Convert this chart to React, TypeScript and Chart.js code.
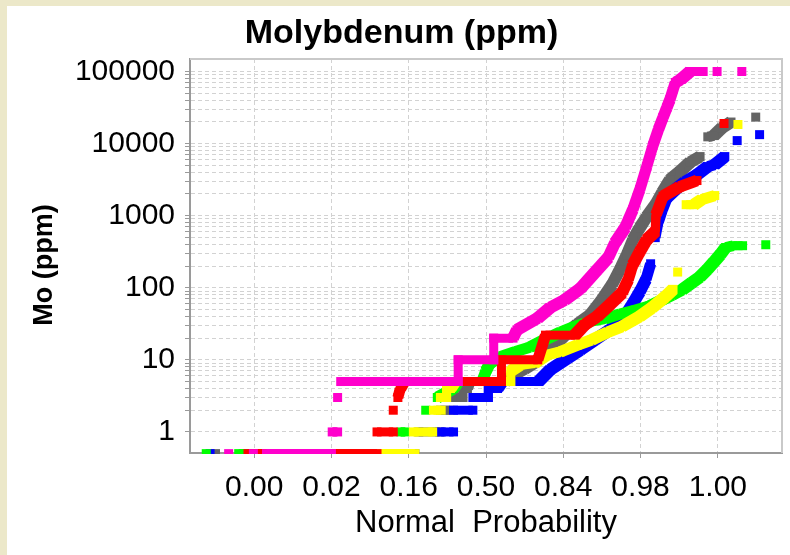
import { useEffect, useRef } from 'react';
import { Chart, registerables } from 'chart.js';

Chart.register(...registerables);

const FONT = "'Liberation Sans', Arial, Helvetica, sans-serif";
const PAGE_BG = '#ece8c9';
const MARK_SIDE = 9;
const Y_TITLE = 'Mo (ppm)';

// Normal-score axis: tick positions (standard deviations) and their cumulative-probability labels
const scoreTicks = [-3, -2, -1, 0, 1, 2, 3];
const probabilityLabels = ['0.00', '0.02', '0.16', '0.50', '0.84', '0.98', '1.00'];

// Labelled decades of the Mo (ppm) log axis
const ppmDecades = [1, 10, 100, 1000, 10000, 100000];

// Sample populations: normal score (z) and Mo in ppm.
// A null pair ends one connected run of samples; lone values are single samples.
const pinkZ = [-3.33, null, -3.01, null, -2.84, -2.0, null, -1.99, -1.92, null, -1.92, null,
  -1.88, -0.36, -0.36, 0.1, 0.1, 0.35, 0.4, 0.67, 0.83, 1.02, 1.22, 1.44, 1.58, 1.67, 1.8, 1.9,
  1.99, 2.08, 2.16, 2.23, 2.29, 2.34, 2.38, 2.45, 2.52, 2.64, 2.81, null, 2.99, null, 3.31];
const pinkPpm = [0.5, null, 0.5, null, 0.5, 0.5, null, 1, 1, null, 3, null,
  5, 5, 10, 10, 20, 20, 26, 38, 53, 68, 97, 178, 261, 422, 681, 1210,
  2300, 4800, 9400, 15600, 23000, 31600, 40800, 70300, 77400, 100000, 100000, null, 100000, null, 100000];

const redZ = [-3.08, -1.41, null, -1.41, -1.2, null, -1.2, null, -1.14, -1.11, -1.06, 0.2, 0.2,
  0.67, 0.77, 1.15, 1.28, 1.44, 1.6, 1.76, 1.84, 1.9, 1.99, 2.08, 2.19, 2.2, 2.29, 2.5, 2.73, null, 3.08];
const redPpm = [0.5, 0.5, null, 1, 1, null, 2, null, 3, 4, 5, 5, 10,
  10, 22, 22, 31, 40, 58, 85, 129, 209, 316, 464, 600, 1030, 1860, 2500, 3070, null, 19000];

const yellowZ = [-2.9, -0.92, null, -0.94, -0.69, null, -0.68, -0.58, null, -0.59, -0.51, -0.51,
  -0.46, -0.4, 0.32, 0.32, 0.44, 0.63, 0.79, 0.96, 1.18, 1.37, 1.57, 1.76, 1.99, 2.15, 2.32, 2.42,
  null, 2.48, null, 2.59, 2.69, 2.79, 2.96, null, 3.26];
const yellowPpm = [0.5, 0.5, null, 1, 1, null, 2, 2, null, 3, 3, 4,
  4, 5, 5, 7, 8.5, 9, 11.7, 12.9, 16, 19, 24, 29, 40, 53, 75, 95,
  null, 165, null, 1420, 1420, 1670, 1900, null, 18400];

const greenZ = [-3.62, null, -3.2, -1.18, null, -1.1, -1.05, null, -0.78, null, -0.63, -0.42,
  -0.36, -0.05, 0.0, 0.05, 0.18, 0.38, 0.57, 0.76, 0.96, 1.15, 1.35, 1.54, 1.73, 1.93, 2.12, 2.28,
  2.41, 2.54, 2.66, 2.77, 2.86, 2.94, 3.03, 3.1, 3.2, 3.32, null, 3.62];
const greenPpm = [0.5, null, 0.5, 0.5, null, 1, 1, null, 2, null, 3, 4,
  5, 5, 7, 9, 11, 13, 15, 19, 24, 29, 34, 37, 43, 49, 56, 68,
  80, 94, 117, 142, 178, 222, 287, 362, 383, 383, null, 395];

const blueZ = [-3.57, null, -2.9, -1.0, null, -0.58, -0.42, null, -0.42, -0.17, null, -0.17, 0.03,
  0.03, 0.15, 0.21, 0.68, 0.83, 1.06, 1.22, 1.41, 1.6, 1.76, 1.89, 1.99, 2.07, 2.13, null,
  2.19, 2.23, 2.28, 2.34, 2.45, 2.57, 2.73, 2.87, 2.96, 3.09, null, 3.25, null, 3.54];
const bluePpm = [0.5, null, 0.5, 0.5, null, 1, 1, null, 2, 2, null, 3, 3,
  4, 4, 5, 5, 7.3, 10.6, 13.7, 19, 26, 35, 58, 88, 130, 215, null,
  496, 826, 1210, 1780, 2300, 2900, 3700, 4800, 5100, 6600, null, 11000, null, 13300];

const grayZ = [-3.5, null, -2.9, -0.92, null, -0.87, -0.6, null, -0.59, -0.47, null, -0.44, -0.3,
  -0.3, -0.24, -0.21, 0.25, 0.38, 0.5, 0.63, 0.76, 0.89, 1.02, 1.18, 1.35, 1.5, 1.63, 1.73, 1.82,
  1.9, 1.99, 2.08, 2.19, 2.28, 2.38, 2.51, 2.64, 2.77, null, 2.87, 2.95, 3.05, 3.17, null, 3.49];
const grayPpm = [0.5, null, 0.5, 0.5, null, 1, 1, null, 2, 2, null, 3, 3,
  4, 4, 5, 5, 6.4, 7.5, 9.1, 11.7, 16, 22, 31, 42, 68, 110, 178, 287,
  464, 681, 965, 1410, 2100, 3160, 4100, 5500, 6600, null, 12400, 12900, 16500, 19900, null, 23300];

// First entry is painted last (on top)
const series = [
  { z: pinkZ, ppm: pinkPpm, color: '#ff00cc' },
  { z: redZ, ppm: redPpm, color: '#ff0000' },
  { z: yellowZ, ppm: yellowPpm, color: '#ffff00' },
  { z: greenZ, ppm: greenPpm, color: '#00ff00' },
  { z: blueZ, ppm: bluePpm, color: '#0000ff' },
  { z: grayZ, ppm: grayPpm, color: '#646464' },
];

// Grid values on the log axis: 1..9 of every decade, up to the top decade
const logGridValues: number[] = [];
ppmDecades.forEach((d, i) => {
  if (i === ppmDecades.length - 1) {
    logGridValues.push(d);
  } else {
    for (let k = 1; k <= 9; k++) logGridValues.push(k * d);
  }
});

// Light frame on the top and right edges of the plot area
const plotFrame = {
  id: 'plotFrame',
  beforeDatasetsDraw(chart: any) {
    const { ctx, chartArea: a } = chart;
    ctx.save();
    ctx.strokeStyle = '#c9c9c9';
    ctx.lineWidth = 2;
    ctx.beginPath();
    ctx.moveTo(a.left, a.top);
    ctx.lineTo(a.right, a.top);
    ctx.lineTo(a.right, a.bottom);
    ctx.stroke();
    ctx.restore();
  },
};

// Vertical y-axis caption, set in the left margin
const yAxisCaption = {
  id: 'yAxisCaption',
  afterDraw(chart: any) {
    const { ctx, chartArea: a } = chart;
    ctx.save();
    ctx.translate(38, (a.top + a.bottom) / 2 + 9);
    ctx.rotate(-Math.PI / 2);
    ctx.font = `bold 27px ${FONT}`;
    ctx.fillStyle = '#000';
    ctx.textAlign = 'center';
    ctx.textBaseline = 'middle';
    ctx.fillText(Y_TITLE, 0, 0);
    ctx.restore();
  },
};

const gridStyle = {
  color: '#d2d2d2',
  lineWidth: 1,
  tickLength: 5,
  tickColor: '#9a9a9a',
  tickWidth: 1,
};

// A run of square markers sweeps a band as wide as the square's extent across the run direction
const sweptWidth = (ctx: any) => {
  const dx = Math.abs(ctx.p1.x - ctx.p0.x);
  const dy = Math.abs(ctx.p1.y - ctx.p0.y);
  const len = Math.hypot(dx, dy) || 1;
  return (MARK_SIDE * (dx + dy)) / len;
};

export default function App() {
  const canvasRef = useRef<HTMLCanvasElement>(null);

  useEffect(() => {
    const canvas = canvasRef.current;
    if (!canvas) return;

    const datasets = series.map((s) => ({
      data: s.z.map((z, i) => ({ x: z, y: s.ppm[i] })),
      showLine: true,
      spanGaps: false,
      borderColor: s.color,
      backgroundColor: s.color,
      borderWidth: MARK_SIDE,
      borderCapStyle: 'butt',
      borderJoinStyle: 'miter',
      segment: { borderWidth: sweptWidth },
      tension: 0,
      pointStyle: 'rect',
      pointRadius: MARK_SIDE / Math.SQRT2,
      pointHoverRadius: MARK_SIDE / Math.SQRT2,
      pointBorderWidth: 0,
      pointBackgroundColor: s.color,
      clip: { left: 8, top: 8, right: 8, bottom: 1 },
    }));

    const chart = new Chart(canvas, {
      type: 'scatter',
      data: { datasets: datasets as any },
      plugins: [plotFrame, yAxisCaption],
      options: {
        animation: false,
        responsive: false,
        events: [],
        layout: { padding: { left: 14, top: 0, right: 8, bottom: 0 } },
        plugins: {
          legend: { display: false },
          tooltip: { enabled: false },
          title: {
            display: true,
            text: 'Molybdenum (ppm)',
            color: '#000',
            font: { family: FONT, size: 34, weight: 'bold' },
            padding: { top: 7, bottom: 5.2 },
          },
        },
        scales: {
          x: {
            type: 'linear',
            min: -3.83,
            max: 3.83,
            afterFit: (s: any) => {
              s.height = 102;
            },
            afterBuildTicks: (s: any) => {
              s.ticks = scoreTicks.map((value) => ({ value }));
            },
            ticks: {
              autoSkip: false,
              maxRotation: 0,
              minRotation: 0,
              padding: 12,
              color: '#000',
              font: { family: FONT, size: 30 },
              callback: (v: any) => probabilityLabels[scoreTicks.indexOf(Number(v))] ?? '',
            },
            grid: gridStyle,
            border: { display: true, color: '#9a9a9a', width: 2, dash: [4, 3] },
            title: {
              display: true,
              text: 'Normal  Probability',
              color: '#000',
              font: { family: FONT, size: 31 },
              padding: { top: 0, bottom: 13 },
            },
          },
          y: {
            type: 'logarithmic',
            min: 0.51,
            max: 149000,
            afterFit: (s: any) => {
              s.width = 169;
            },
            afterBuildTicks: (s: any) => {
              s.ticks = logGridValues.map((value) => ({ value }));
            },
            ticks: {
              autoSkip: false,
              padding: 10,
              color: '#000',
              font: { family: FONT, size: 30 },
              callback: (v: any) => (ppmDecades.includes(Number(v)) ? String(v) : ''),
            },
            grid: gridStyle,
            border: { display: true, color: '#9a9a9a', width: 2, dash: [4, 3] },
            title: { display: false },
          },
        },
      },
    });

    return () => chart.destroy();
  }, []);

  return (
    <div style={{ position: 'fixed', inset: 0, background: PAGE_BG }}>
      <div
        style={{
          position: 'absolute',
          left: 7,
          top: 6,
          width: 783,
          height: 549,
          background: '#ffffff',
        }}
      >
        <canvas ref={canvasRef} width={783} height={549} style={{ display: 'block' }} />
      </div>
    </div>
  );
}
